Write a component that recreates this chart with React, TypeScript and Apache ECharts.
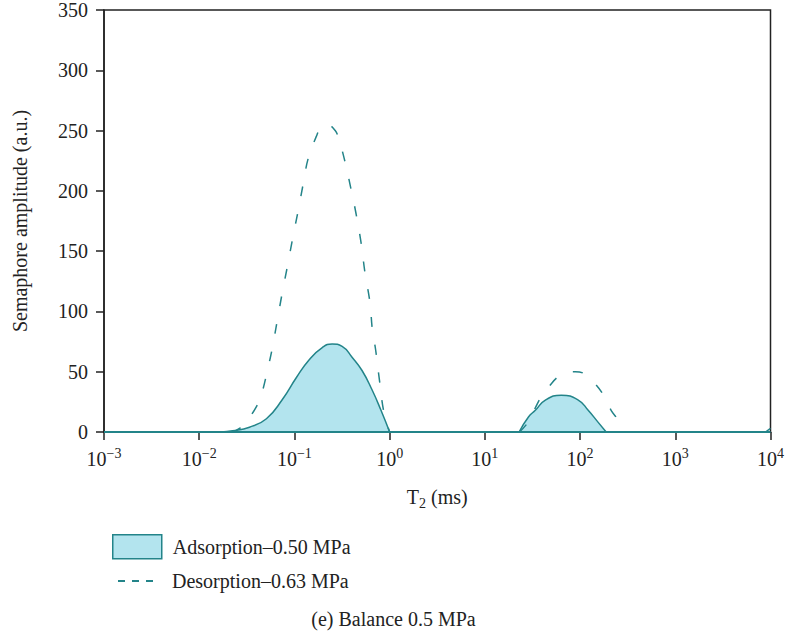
import React, { useEffect, useRef } from "react";
import * as echarts from "echarts";

const FONT = '"Liberation Serif", "Times New Roman", serif';
const TEAL = "#238489";
const FILL = "#b3e4ee";
const TXT = "#222222";

const ADS_NAME = "Adsorption\u20130.50 MPa";
const DES_NAME = "Desorption\u20130.63 MPa";

// Adsorption (solid, filled)
const adsBaseT2 = [0.001, 10000];
const adsBaseAmp = [0, 0];
const adsPeak1T2 = [0.017, 0.0224, 0.0337, 0.0508, 0.0747, 0.1045, 0.143, 0.196, 0.249, 0.317, 0.403, 0.513, 0.653, 0.811, 1.0];
const adsPeak1Amp = [0, 1, 4, 11, 27, 45, 60, 70, 73, 71, 62, 51, 35, 18, 0];
const adsPeak2T2 = [22.9, 28.7, 33.9, 43.2, 63.5, 95.7, 121.7, 155, 188];
const adsPeak2Amp = [0, 12.5, 18, 26.5, 30.5, 26.5, 18, 8, 0];

// Desorption (dashed)
const desPeak1T2 = [0.0218, 0.0265, 0.0321, 0.0399, 0.045, 0.052, 0.0587, 0.0662, 0.0747, 0.0842, 0.095, 0.1097, 0.1238, 0.1396, 0.1694, 0.191, 0.221, 0.268, 0.295, 0.34, 0.394, 0.444, 0.501, 0.551, 0.622, 0.658, 0.713, 0.773, 0.871, 1.0];
const desPeak1Amp = [0, 3, 10, 21, 31, 51, 70, 93, 116, 137, 159, 184, 206, 227, 245, 253, 255, 250, 242, 224, 201, 181, 157, 132, 107, 85, 68, 46, 16, 0];
const desPeak2T2 = [23.1, 28.7, 33.9, 38.3, 48.7, 59.1, 73, 88.9, 113, 147.6, 174.7, 211.8, 250.6, 290];
const desPeak2Amp = [0, 8.5, 20, 28, 39, 46, 49.5, 50, 48, 39, 31, 18, 10, 0];
const desTailT2 = [8870, 10000];
const desTailAmp = [0, 3];

const yTicks = { min: 0, max: 350, interval: 50 };
const xRange = { min: 0.001, max: 10000 };

const zip = (xs: number[], ys: number[]) => xs.map((x, i) => [x, ys[i]]);

export default function App() {
  const ref = useRef<HTMLDivElement>(null);
  useEffect(() => {
    if (!ref.current) return;
    const chart = echarts.init(ref.current, null, { renderer: "svg" });
    const solid = (data: number[][], area: boolean, width: number) => ({
      type: "line",
      name: ADS_NAME,
      data,
      smooth: area ? 0.5 : false,
      showSymbol: false,
      symbol: "none",
      lineStyle: { color: TEAL, width },
      itemStyle: { color: TEAL },
      areaStyle: area ? { color: FILL, opacity: 1 } : undefined,
      z: 2,
      silent: true,
    });
    const dashed = (data: number[][]) => ({
      type: "line",
      name: DES_NAME,
      data,
      smooth: 0.4,
      showSymbol: false,
      symbol: "none",
      lineStyle: { color: TEAL, width: 1.5, type: [10, 18] },
      itemStyle: { color: TEAL },
      z: 3,
      silent: true,
    });
    chart.setOption({
      animation: false,
      textStyle: { fontFamily: FONT, color: TXT },
      grid: {
        left: 104,
        right: 14,
        top: 10,
        bottom: 205,
        show: true,
        borderColor: TXT,
        borderWidth: 1.5,
        backgroundColor: "transparent",
      },
      xAxis: {
        type: "log",
        logBase: 10,
        min: xRange.min,
        max: xRange.max,
        interval: 1,
        splitNumber: 7,
        name: "{t|T}{s|2}{t| (ms)}",
        nameLocation: "middle",
        nameGap: 52,
        nameTextStyle: {
          rich: {
            t: { fontSize: 20, lineHeight: 26, fontFamily: FONT, color: TXT },
            s: { fontSize: 14, verticalAlign: "bottom", fontFamily: FONT, color: TXT },
          },
        },
        axisLine: { show: true, lineStyle: { color: TXT, width: 1.5 } },
        axisTick: { show: true, inside: false, length: 8, lineStyle: { color: TXT, width: 1.5 } },
        minorTick: { show: false },
        splitLine: { show: false },
        axisLabel: {
          margin: 14,
          formatter: (v: number) => {
            const e = Math.round(Math.log10(v));
            return `{b|10}{s|${e < 0 ? "\u2212" : ""}${Math.abs(e)}}`;
          },
          rich: {
            b: { fontSize: 20, lineHeight: 26, fontFamily: FONT, color: TXT },
            s: { fontSize: 14, verticalAlign: "top", fontFamily: FONT, color: TXT },
          },
        },
      },
      yAxis: {
        type: "value",
        min: yTicks.min,
        max: yTicks.max,
        interval: yTicks.interval,
        name: "Semaphore amplitude (a.u.)",
        nameLocation: "middle",
        nameGap: 74,
        nameTextStyle: { fontSize: 20, fontFamily: FONT, color: TXT },
        axisLine: { show: true, lineStyle: { color: TXT, width: 1.5 } },
        axisTick: { show: true, inside: false, length: 8, lineStyle: { color: TXT, width: 1.5 } },
        splitLine: { show: false },
        axisLabel: { margin: 16, fontSize: 20, fontFamily: FONT, color: TXT },
      },
      legend: [
        {
          left: 112,
          top: 534,
          padding: 0,
          itemWidth: 49,
          itemHeight: 24,
          icon: "rect",
          selectedMode: false,
          data: [{ name: ADS_NAME, itemStyle: { color: FILL, borderColor: TEAL, borderWidth: 1.5 } }],
          formatter: (n: string) => `{t|${n}}`,
          textStyle: { rich: { t: { fontSize: 20, fontFamily: FONT, color: TXT, padding: [0, 0, 0, 6] } } },
        },
        {
          left: 118,
          top: 571,
          padding: 0,
          itemWidth: 35,
          itemHeight: 2,
          icon: "path://M0,0h7v2h-7z M14,0h7v2h-7z M28,0h7v2h-7z",
          selectedMode: false,
          data: [{ name: DES_NAME, itemStyle: { color: TEAL, borderWidth: 0 } }],
          formatter: (n: string) => `{t|${n}}`,
          textStyle: { rich: { t: { fontSize: 20, fontFamily: FONT, color: TXT, padding: [0, 0, 0, 14] } } },
        },
      ],
      title: {
        text: "(e) Balance 0.5 MPa",
        left: "center",
        top: 609,
        padding: 0,
        textStyle: { fontSize: 20, fontWeight: "normal", fontFamily: FONT, color: TXT },
      },
      series: [
        solid(zip(adsPeak1T2, adsPeak1Amp), true, 1.5),
        solid(zip(adsPeak2T2, adsPeak2Amp), true, 1.5),
        solid(zip(adsBaseT2, adsBaseAmp), false, 2),
        dashed(zip(desPeak1T2, desPeak1Amp)),
        dashed(zip(desPeak2T2, desPeak2Amp)),
        dashed(zip(desTailT2, desTailAmp)),
      ],
    });
    return () => chart.dispose();
  }, []);
  return (
    <div
      ref={ref}
      style={{ position: "fixed", left: 0, top: 0, width: 787, height: 637, background: "#fff" }}
    />
  );
}
